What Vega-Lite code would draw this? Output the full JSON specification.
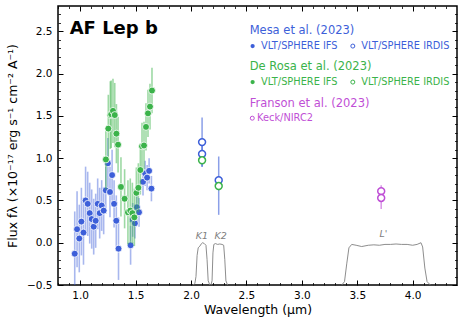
{
  "$schema": "https://vega.github.io/schema/vega-lite/v6.json",
  "width": 399,
  "height": 279,
  "autosize": {"type": "none"},
  "padding": {"left": 58, "top": 6, "right": 8, "bottom": 40},
  "config": {
    "view": {"stroke": "black", "strokeWidth": 1.5},
    "font": "DejaVu Sans",
    "axis": {"grid": false, "domain": false, "tickColor": "black", "labelColor": "black", "titleColor": "black", "titleFontWeight": "normal"}
  },
  "datasets": {
    "filters": [
      {"band": "K1", "wl": 2.02, "f": -0.5}, {"band": "K1", "wl": 2.035, "f": -0.48}, {"band": "K1", "wl": 2.045, "f": -0.4}, {"band": "K1", "wl": 2.055, "f": -0.15}, {"band": "K1", "wl": 2.065, "f": -0.06}, {"band": "K1", "wl": 2.08, "f": -0.04}, {"band": "K1", "wl": 2.095, "f": -0.01}, {"band": "K1", "wl": 2.105, "f": 0.0}, {"band": "K1", "wl": 2.12, "f": -0.01}, {"band": "K1", "wl": 2.135, "f": -0.03}, {"band": "K1", "wl": 2.145, "f": -0.2}, {"band": "K1", "wl": 2.155, "f": -0.45}, {"band": "K1", "wl": 2.17, "f": -0.5},
      {"band": "K2", "wl": 2.18, "f": -0.5}, {"band": "K2", "wl": 2.19, "f": -0.45}, {"band": "K2", "wl": 2.198, "f": -0.12}, {"band": "K2", "wl": 2.206, "f": -0.02}, {"band": "K2", "wl": 2.22, "f": -0.01}, {"band": "K2", "wl": 2.24, "f": -0.02}, {"band": "K2", "wl": 2.26, "f": -0.015}, {"band": "K2", "wl": 2.28, "f": -0.02}, {"band": "K2", "wl": 2.295, "f": -0.03}, {"band": "K2", "wl": 2.305, "f": -0.2}, {"band": "K2", "wl": 2.315, "f": -0.45}, {"band": "K2", "wl": 2.33, "f": -0.5},
      {"band": "L", "wl": 3.36, "f": -0.5}, {"band": "L", "wl": 3.385, "f": -0.46}, {"band": "L", "wl": 3.405, "f": -0.25}, {"band": "L", "wl": 3.425, "f": -0.06}, {"band": "L", "wl": 3.45, "f": -0.02}, {"band": "L", "wl": 3.49, "f": -0.03}, {"band": "L", "wl": 3.54, "f": -0.045}, {"band": "L", "wl": 3.6, "f": -0.03}, {"band": "L", "wl": 3.65, "f": -0.025}, {"band": "L", "wl": 3.7, "f": -0.03}, {"band": "L", "wl": 3.75, "f": -0.02}, {"band": "L", "wl": 3.8, "f": -0.02}, {"band": "L", "wl": 3.85, "f": -0.015}, {"band": "L", "wl": 3.9, "f": -0.02}, {"band": "L", "wl": 3.95, "f": -0.02}, {"band": "L", "wl": 4.0, "f": -0.03}, {"band": "L", "wl": 4.04, "f": -0.02}, {"band": "L", "wl": 4.075, "f": 0.0}, {"band": "L", "wl": 4.09, "f": -0.05}, {"band": "L", "wl": 4.11, "f": -0.3}, {"band": "L", "wl": 4.13, "f": -0.46}, {"band": "L", "wl": 4.16, "f": -0.5}
    ],
    "mesa_ifs": [
      {"wl": 0.951, "f": -0.13, "lo": -0.63, "hi": 0.37},
      {"wl": 0.972, "f": 0.16, "lo": -0.29, "hi": 0.61},
      {"wl": 0.992, "f": 0.05, "lo": -0.35, "hi": 0.45},
      {"wl": 1.011, "f": 0.25, "lo": -0.15, "hi": 0.65},
      {"wl": 1.030, "f": 0.12, "lo": -0.26, "hi": 0.5},
      {"wl": 1.049, "f": 0.5, "lo": 0.1, "hi": 0.9},
      {"wl": 1.068, "f": 0.46, "lo": 0.08, "hi": 0.84},
      {"wl": 1.086, "f": 0.35, "lo": -0.01, "hi": 0.71},
      {"wl": 1.104, "f": 0.28, "lo": -0.07, "hi": 0.63},
      {"wl": 1.122, "f": 0.19, "lo": -0.14, "hi": 0.52},
      {"wl": 1.140, "f": 0.26, "lo": -0.06, "hi": 0.58},
      {"wl": 1.158, "f": 0.46, "lo": 0.16, "hi": 0.76},
      {"wl": 1.176, "f": 0.35, "lo": 0.05, "hi": 0.65},
      {"wl": 1.194, "f": 0.44, "lo": 0.14, "hi": 0.74},
      {"wl": 1.212, "f": 0.38, "lo": 0.1, "hi": 0.66},
      {"wl": 1.231, "f": 0.62, "lo": 0.34, "hi": 0.9},
      {"wl": 1.250, "f": 0.94, "lo": 0.64, "hi": 1.24},
      {"wl": 1.269, "f": 0.6, "lo": 0.3, "hi": 0.9},
      {"wl": 1.288, "f": 0.8, "lo": 0.5, "hi": 1.1},
      {"wl": 1.306, "f": 0.46, "lo": 0.18, "hi": 0.74},
      {"wl": 1.326, "f": 0.26, "lo": -0.04, "hi": 0.56},
      {"wl": 1.346, "f": -0.07, "lo": -0.44, "hi": 0.3},
      {"wl": 1.455, "f": -0.03, "lo": -0.26, "hi": 0.2},
      {"wl": 1.474, "f": 0.27, "lo": 0.07, "hi": 0.47},
      {"wl": 1.494, "f": 0.23, "lo": 0.05, "hi": 0.41},
      {"wl": 1.512, "f": 0.42, "lo": 0.24, "hi": 0.6},
      {"wl": 1.531, "f": 0.36, "lo": 0.19, "hi": 0.53},
      {"wl": 1.567, "f": 0.72, "lo": 0.56, "hi": 0.88},
      {"wl": 1.586, "f": 0.82, "lo": 0.67, "hi": 0.97},
      {"wl": 1.604, "f": 0.77, "lo": 0.62, "hi": 0.92},
      {"wl": 1.622, "f": 0.85, "lo": 0.7, "hi": 1.0},
      {"wl": 1.643, "f": 0.64, "lo": 0.49, "hi": 0.79}
    ],
    "derosa_ifs": [
      {"wl": 1.232, "f": 0.985, "lo": 0.63, "hi": 1.34},
      {"wl": 1.254, "f": 1.35, "lo": 0.95, "hi": 1.75},
      {"wl": 1.272, "f": 1.51, "lo": 1.11, "hi": 1.91},
      {"wl": 1.280, "f": 1.52, "lo": 1.12, "hi": 1.92},
      {"wl": 1.296, "f": 1.56, "lo": 1.18, "hi": 1.94},
      {"wl": 1.312, "f": 1.51, "lo": 1.13, "hi": 1.89},
      {"wl": 1.327, "f": 1.29, "lo": 0.94, "hi": 1.64},
      {"wl": 1.342, "f": 1.16, "lo": 0.83, "hi": 1.49},
      {"wl": 1.368, "f": 0.66, "lo": 0.31, "hi": 1.01},
      {"wl": 1.401, "f": 0.52, "lo": 0.17, "hi": 0.87},
      {"wl": 1.431, "f": 0.36, "lo": -0.02, "hi": 0.74},
      {"wl": 1.452, "f": 0.38, "lo": 0.0, "hi": 0.76},
      {"wl": 1.471, "f": 0.35, "lo": -0.01, "hi": 0.71},
      {"wl": 1.489, "f": 0.3, "lo": -0.04, "hi": 0.64},
      {"wl": 1.507, "f": 0.59, "lo": 0.29, "hi": 0.89},
      {"wl": 1.525, "f": 0.65, "lo": 0.36, "hi": 0.94},
      {"wl": 1.543, "f": 0.86, "lo": 0.57, "hi": 1.15},
      {"wl": 1.558, "f": 1.14, "lo": 0.86, "hi": 1.42},
      {"wl": 1.576, "f": 1.15, "lo": 0.87, "hi": 1.43},
      {"wl": 1.594, "f": 1.37, "lo": 1.09, "hi": 1.65},
      {"wl": 1.612, "f": 1.53, "lo": 1.25, "hi": 1.81},
      {"wl": 1.630, "f": 1.61, "lo": 1.34, "hi": 1.88},
      {"wl": 1.648, "f": 1.8, "lo": 1.53, "hi": 2.07}
    ],
    "irdis": [
      {"g": "Mesa", "wl": 2.10, "f": 1.19, "lo": 0.9, "hi": 1.48},
      {"g": "Mesa", "wl": 2.10, "f": 1.05, "lo": 0.9, "hi": 1.2},
      {"g": "Mesa", "wl": 2.25, "f": 0.74, "lo": 0.33, "hi": 1.02},
      {"g": "DeRosa", "wl": 2.10, "f": 0.975, "lo": 0.93, "hi": 1.02},
      {"g": "DeRosa", "wl": 2.25, "f": 0.67, "lo": 0.62, "hi": 0.72},
      {"g": "Franson", "wl": 3.716, "f": 0.61, "lo": 0.54, "hi": 0.68},
      {"g": "Franson", "wl": 3.716, "f": 0.53, "lo": 0.4, "hi": 0.6}
    ],
    "filterlabels": [
      {"wl": 2.098, "f": 0.085, "t": "K1"},
      {"wl": 2.267, "f": 0.085, "t": "K2"},
      {"wl": 3.737, "f": 0.1, "t": "L'"}
    ],
    "legtitles": [
      {"wl": 2.529, "f": 2.504, "t": "Mesa et al. (2023)", "g": "Mesa"},
      {"wl": 2.529, "f": 2.077, "t": "De Rosa et al. (2023)", "g": "DeRosa"},
      {"wl": 2.529, "f": 1.644, "t": "Franson et al. (2023)", "g": "Franson"}
    ],
    "legentries": [
      {"wl": 2.632, "f": 2.326, "t": "VLT/SPHERE IFS", "g": "Mesa"},
      {"wl": 3.536, "f": 2.326, "t": "VLT/SPHERE IRDIS", "g": "Mesa"},
      {"wl": 2.632, "f": 1.9, "t": "VLT/SPHERE IFS", "g": "DeRosa"},
      {"wl": 3.536, "f": 1.9, "t": "VLT/SPHERE IRDIS", "g": "DeRosa"},
      {"wl": 2.596, "f": 1.473, "t": "Keck/NIRC2", "g": "Franson"}
    ],
    "legfilled": [
      {"wl": 2.556, "f": 2.326, "g": "Mesa"},
      {"wl": 2.556, "f": 1.9, "g": "DeRosa"}
    ],
    "legopen": [
      {"wl": 3.46, "f": 2.326, "g": "Mesa"},
      {"wl": 3.46, "f": 1.9, "g": "DeRosa"},
      {"wl": 2.553, "f": 1.473, "g": "Franson"}
    ],
    "title": [
      {"wl": 0.905, "f": 2.53, "t": "AF Lep b"}
    ]
  },
  "resolve": {"axis": {"x": "independent", "y": "independent"}},
  "layer": [
    {
      "data": {"name": "filters"},
      "mark": {"type": "line", "color": "#808080", "strokeWidth": 0.9, "clip": true},
      "encoding": {
        "x": {"field": "wl", "type": "quantitative", "scale": {"domain": [0.8, 4.4], "nice": false, "zero": false},
          "axis": {"orient": "bottom", "values": [1, 1.5, 2, 2.5, 3, 3.5, 4], "ticks": false, "labelPadding": 5, "labelFontSize": 10.5, "format": ".1f", "title": "Wavelength (μm)", "titleFontSize": 12.5, "titlePadding": 3}},
        "y": {"field": "f", "type": "quantitative", "scale": {"domain": [-0.5, 2.8], "nice": false, "zero": false},
          "axis": {"orient": "left", "values": [-0.5, 0, 0.5, 1, 1.5, 2, 2.5], "ticks": false, "labelPadding": 6, "labelFontSize": 10.5, "format": ".1f", "title": "Flux fλ (×10⁻¹⁷ erg s⁻¹ cm⁻² A⁻¹)", "titleFontSize": 12.5, "titlePadding": 7}},
        "detail": {"field": "band"}
      }
    },
    {
      "data": {"name": "mesa_ifs"},
      "mark": {"type": "rule", "color": "#3d5fd9", "opacity": 0.45, "strokeWidth": 1.6, "clip": true},
      "encoding": {
        "x": {"field": "wl", "type": "quantitative", "scale": {"domain": [0.8, 4.4], "nice": false, "zero": false},
          "axis": {"orient": "bottom", "values": [1, 1.5, 2, 2.5, 3, 3.5, 4], "tickSize": -5, "tickWidth": 1, "labels": false, "title": null}},
        "y": {"field": "lo", "type": "quantitative", "scale": {"domain": [-0.5, 2.8], "nice": false, "zero": false},
          "axis": {"orient": "left", "values": [-0.5, 0, 0.5, 1, 1.5, 2, 2.5], "tickSize": -5, "tickWidth": 1, "labels": false, "title": null}},
        "y2": {"field": "hi"}
      }
    },
    {
      "data": {"name": "mesa_ifs"},
      "mark": {"type": "point", "filled": true, "color": "#3d5fd9", "opacity": 1, "size": 48, "stroke": "white", "strokeWidth": 0.8, "clip": true},
      "encoding": {
        "x": {"field": "wl", "type": "quantitative", "scale": {"domain": [0.8, 4.4], "nice": false, "zero": false},
          "axis": {"orient": "bottom", "values": [0.8, 0.9, 1.1, 1.2, 1.3, 1.4, 1.6, 1.7, 1.8, 1.9, 2.1, 2.2, 2.3, 2.4, 2.6, 2.7, 2.8, 2.9, 3.1, 3.2, 3.3, 3.4, 3.6, 3.7, 3.8, 3.9, 4.1, 4.2, 4.3], "tickSize": -2.5, "tickWidth": 0.8, "labels": false, "title": null}},
        "y": {"field": "f", "type": "quantitative", "scale": {"domain": [-0.5, 2.8], "nice": false, "zero": false},
          "axis": {"orient": "left", "values": [-0.4, -0.3, -0.2, -0.1, 0.1, 0.2, 0.3, 0.4, 0.6, 0.7, 0.8, 0.9, 1.1, 1.2, 1.3, 1.4, 1.6, 1.7, 1.8, 1.9, 2.1, 2.2, 2.3, 2.4, 2.6, 2.7], "tickSize": -2.5, "tickWidth": 0.8, "labels": false, "title": null}}
      }
    },
    {
      "data": {"name": "derosa_ifs"},
      "mark": {"type": "rule", "color": "#3bb34a", "opacity": 0.5, "strokeWidth": 1.6, "clip": true},
      "encoding": {
        "x": {"field": "wl", "type": "quantitative", "scale": {"domain": [0.8, 4.4], "nice": false, "zero": false},
          "axis": {"orient": "top", "values": [1, 1.5, 2, 2.5, 3, 3.5, 4], "tickSize": -5, "tickWidth": 1, "labels": false, "title": null}},
        "y": {"field": "lo", "type": "quantitative", "scale": {"domain": [-0.5, 2.8], "nice": false, "zero": false},
          "axis": {"orient": "right", "values": [-0.5, 0, 0.5, 1, 1.5, 2, 2.5], "tickSize": -5, "tickWidth": 1, "labels": false, "title": null}},
        "y2": {"field": "hi"}
      }
    },
    {
      "data": {"name": "derosa_ifs"},
      "mark": {"type": "point", "filled": true, "color": "#3bb34a", "opacity": 1, "size": 48, "stroke": "white", "strokeWidth": 0.8, "clip": true},
      "encoding": {
        "x": {"field": "wl", "type": "quantitative", "scale": {"domain": [0.8, 4.4], "nice": false, "zero": false},
          "axis": {"orient": "top", "values": [0.8, 0.9, 1.1, 1.2, 1.3, 1.4, 1.6, 1.7, 1.8, 1.9, 2.1, 2.2, 2.3, 2.4, 2.6, 2.7, 2.8, 2.9, 3.1, 3.2, 3.3, 3.4, 3.6, 3.7, 3.8, 3.9, 4.1, 4.2, 4.3], "tickSize": -2.5, "tickWidth": 0.8, "labels": false, "title": null}},
        "y": {"field": "f", "type": "quantitative", "scale": {"domain": [-0.5, 2.8], "nice": false, "zero": false},
          "axis": {"orient": "right", "values": [-0.4, -0.3, -0.2, -0.1, 0.1, 0.2, 0.3, 0.4, 0.6, 0.7, 0.8, 0.9, 1.1, 1.2, 1.3, 1.4, 1.6, 1.7, 1.8, 1.9, 2.1, 2.2, 2.3, 2.4, 2.6, 2.7], "tickSize": -2.5, "tickWidth": 0.8, "labels": false, "title": null}}
      }
    },
    {
      "data": {"name": "irdis"},
      "mark": {"type": "rule", "opacity": 0.6, "strokeWidth": 1.5, "clip": true},
      "encoding": {
        "x": {"field": "wl", "type": "quantitative", "scale": {"domain": [0.8, 4.4], "nice": false, "zero": false}, "axis": null},
        "y": {"field": "lo", "type": "quantitative", "scale": {"domain": [-0.5, 2.8], "nice": false, "zero": false}, "axis": null},
        "y2": {"field": "hi"},
        "color": {"field": "g", "type": "nominal", "scale": {"domain": ["Mesa", "DeRosa", "Franson"], "range": ["#3d5fd9", "#3bb34a", "#bf4fd6"]}, "legend": null}
      }
    },
    {
      "data": {"name": "irdis"},
      "mark": {"type": "point", "filled": false, "fill": "white", "fillOpacity": 1, "opacity": 1, "size": 48, "strokeWidth": 1.5, "clip": true},
      "encoding": {
        "x": {"field": "wl", "type": "quantitative", "scale": {"domain": [0.8, 4.4], "nice": false, "zero": false}, "axis": null},
        "y": {"field": "f", "type": "quantitative", "scale": {"domain": [-0.5, 2.8], "nice": false, "zero": false}, "axis": null},
        "stroke": {"field": "g", "type": "nominal", "scale": {"domain": ["Mesa", "DeRosa", "Franson"], "range": ["#3d5fd9", "#3bb34a", "#bf4fd6"]}, "legend": null}
      }
    },
    {
      "data": {"name": "filterlabels"},
      "mark": {"type": "text", "color": "#808080", "fontStyle": "italic", "fontSize": 9.5, "align": "center", "baseline": "middle"},
      "encoding": {
        "x": {"field": "wl", "type": "quantitative", "scale": {"domain": [0.8, 4.4], "nice": false, "zero": false}, "axis": null},
        "y": {"field": "f", "type": "quantitative", "scale": {"domain": [-0.5, 2.8], "nice": false, "zero": false}, "axis": null},
        "text": {"field": "t"}
      }
    },
    {
      "data": {"name": "legtitles"},
      "mark": {"type": "text", "fontSize": 11.5, "align": "left", "baseline": "middle"},
      "encoding": {
        "x": {"field": "wl", "type": "quantitative", "scale": {"domain": [0.8, 4.4], "nice": false, "zero": false}, "axis": null},
        "y": {"field": "f", "type": "quantitative", "scale": {"domain": [-0.5, 2.8], "nice": false, "zero": false}, "axis": null},
        "text": {"field": "t"},
        "color": {"field": "g", "type": "nominal", "scale": {"domain": ["Mesa", "DeRosa", "Franson"], "range": ["#3d5fd9", "#3bb34a", "#bf4fd6"]}, "legend": null}
      }
    },
    {
      "data": {"name": "legentries"},
      "mark": {"type": "text", "fontSize": 9.8, "align": "left", "baseline": "middle"},
      "encoding": {
        "x": {"field": "wl", "type": "quantitative", "scale": {"domain": [0.8, 4.4], "nice": false, "zero": false}, "axis": null},
        "y": {"field": "f", "type": "quantitative", "scale": {"domain": [-0.5, 2.8], "nice": false, "zero": false}, "axis": null},
        "text": {"field": "t"},
        "color": {"field": "g", "type": "nominal", "scale": {"domain": ["Mesa", "DeRosa", "Franson"], "range": ["#3d5fd9", "#3bb34a", "#bf4fd6"]}, "legend": null}
      }
    },
    {
      "data": {"name": "legfilled"},
      "mark": {"type": "point", "filled": true, "opacity": 1, "size": 18},
      "encoding": {
        "x": {"field": "wl", "type": "quantitative", "scale": {"domain": [0.8, 4.4], "nice": false, "zero": false}, "axis": null},
        "y": {"field": "f", "type": "quantitative", "scale": {"domain": [-0.5, 2.8], "nice": false, "zero": false}, "axis": null},
        "color": {"field": "g", "type": "nominal", "scale": {"domain": ["Mesa", "DeRosa", "Franson"], "range": ["#3d5fd9", "#3bb34a", "#bf4fd6"]}, "legend": null}
      }
    },
    {
      "data": {"name": "legopen"},
      "mark": {"type": "point", "filled": false, "opacity": 1, "size": 16, "strokeWidth": 1},
      "encoding": {
        "x": {"field": "wl", "type": "quantitative", "scale": {"domain": [0.8, 4.4], "nice": false, "zero": false}, "axis": null},
        "y": {"field": "f", "type": "quantitative", "scale": {"domain": [-0.5, 2.8], "nice": false, "zero": false}, "axis": null},
        "color": {"field": "g", "type": "nominal", "scale": {"domain": ["Mesa", "DeRosa", "Franson"], "range": ["#3d5fd9", "#3bb34a", "#bf4fd6"]}, "legend": null}
      }
    },
    {
      "data": {"name": "title"},
      "mark": {"type": "text", "fontSize": 18, "fontWeight": "bold", "align": "left", "baseline": "middle", "color": "black"},
      "encoding": {
        "x": {"field": "wl", "type": "quantitative", "scale": {"domain": [0.8, 4.4], "nice": false, "zero": false}, "axis": null},
        "y": {"field": "f", "type": "quantitative", "scale": {"domain": [-0.5, 2.8], "nice": false, "zero": false}, "axis": null},
        "text": {"field": "t"}
      }
    }
  ]
}
